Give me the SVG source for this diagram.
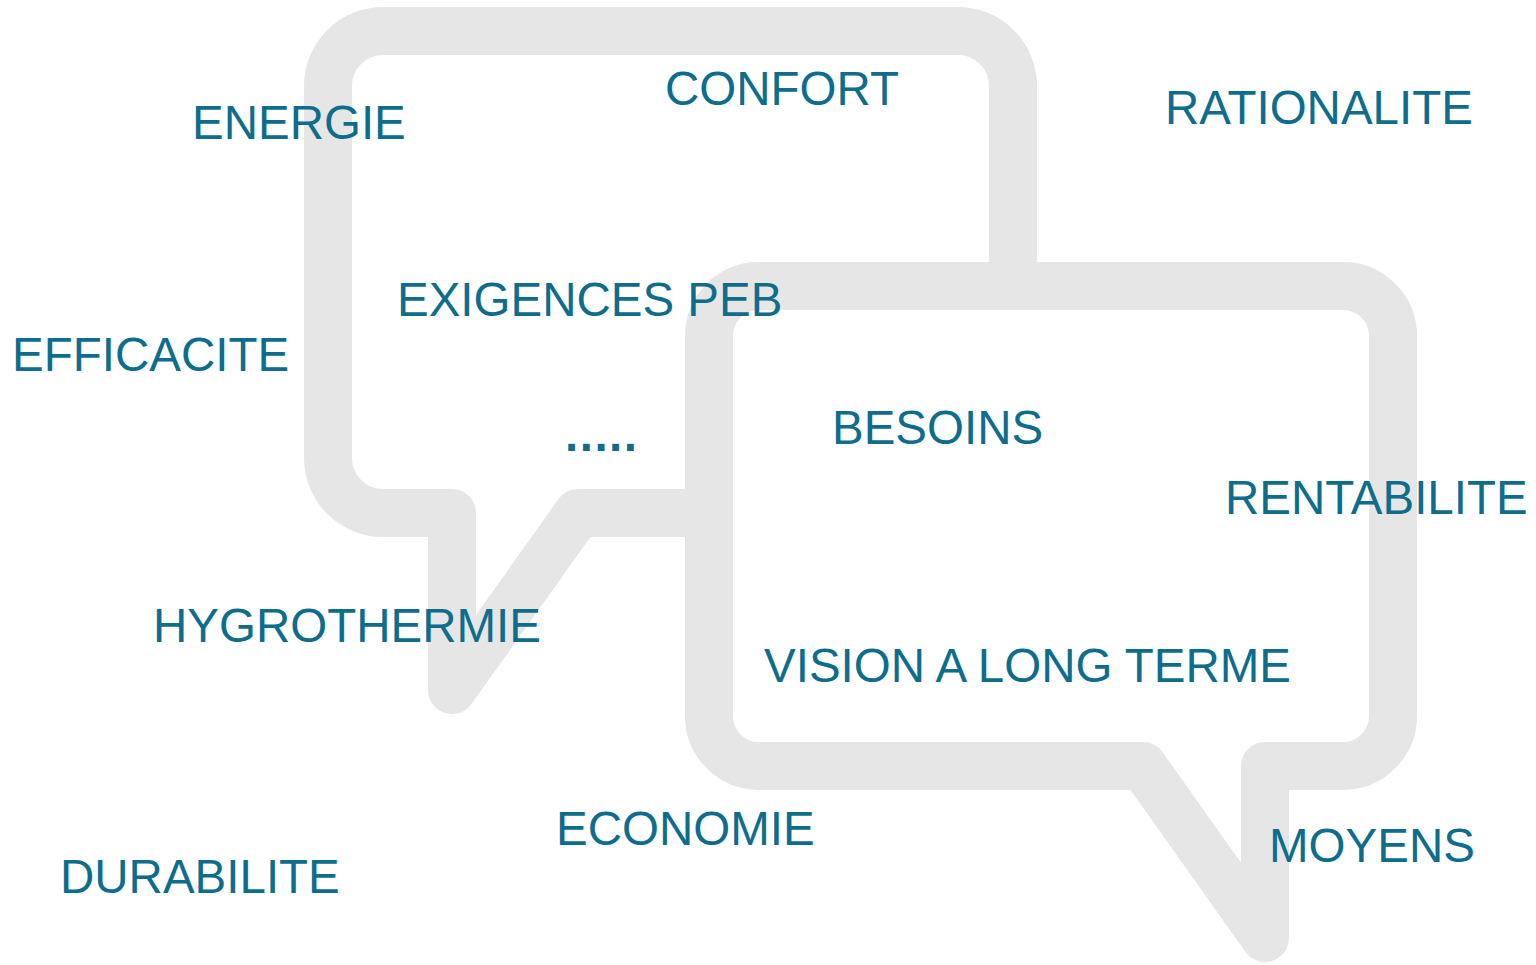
<svg xmlns="http://www.w3.org/2000/svg" width="1536" height="965" viewBox="0 0 1536 965">
<style>
.bubble{fill:#ffffff;stroke:#e6e6e6;stroke-width:48;stroke-linejoin:round}
.lbl{font-family:"Liberation Sans",Arial,sans-serif;font-size:47.5px;fill:#0e6d8d}
</style>
<rect width="1536" height="965" fill="#ffffff"/>
<g id="connectors"></g>
<g id="bubble1">
<path class="bubble" d="M 578 513 L 958 513 A 55 55 0 0 0 1013 458 L 1013 86 A 55 55 0 0 0 958 31 L 383 31 A 55 55 0 0 0 328 86 L 328 458 A 55 55 0 0 0 383 513 L 452 513 L 452 690 Z"/>
</g>
<g id="bubble2">
<path class="bubble" d="M 1265 766 L 1343 766 A 50 50 0 0 0 1393 716 L 1393 336 A 50 50 0 0 0 1343 286 L 759 286 A 50 50 0 0 0 709 336 L 709 716 A 50 50 0 0 0 759 766 L 1143 766 L 1265 938 Z"/>
</g>
<g id="energie"><text class="lbl" x="192" y="139">ENERGIE</text></g>
<g id="confort"><text class="lbl" x="665" y="105">CONFORT</text></g>
<g id="rationalite"><text class="lbl" x="1165" y="124">RATIONALITE</text></g>
<g id="efficacite"><text class="lbl" x="12" y="371">EFFICACITE</text></g>
<g id="exigences"><text class="lbl" x="397" y="316">EXIGENCES PEB</text></g>
<g id="dots"><text class="lbl" x="565" y="451" font-weight="bold" letter-spacing="1.5">.....</text></g>
<g id="besoins"><text class="lbl" x="832" y="444">BESOINS</text></g>
<g id="rentabilite"><text class="lbl" x="1225" y="514">RENTABILITE</text></g>
<g id="hygrothermie"><text class="lbl" x="153" y="642">HYGROTHERMIE</text></g>
<g id="vision"><text class="lbl" x="764" y="682">VISION A LONG TERME</text></g>
<g id="economie"><text class="lbl" x="556" y="845">ECONOMIE</text></g>
<g id="moyens"><text class="lbl" x="1269" y="862">MOYENS</text></g>
<g id="durabilite"><text class="lbl" x="60" y="893">DURABILITE</text></g>
</svg>
